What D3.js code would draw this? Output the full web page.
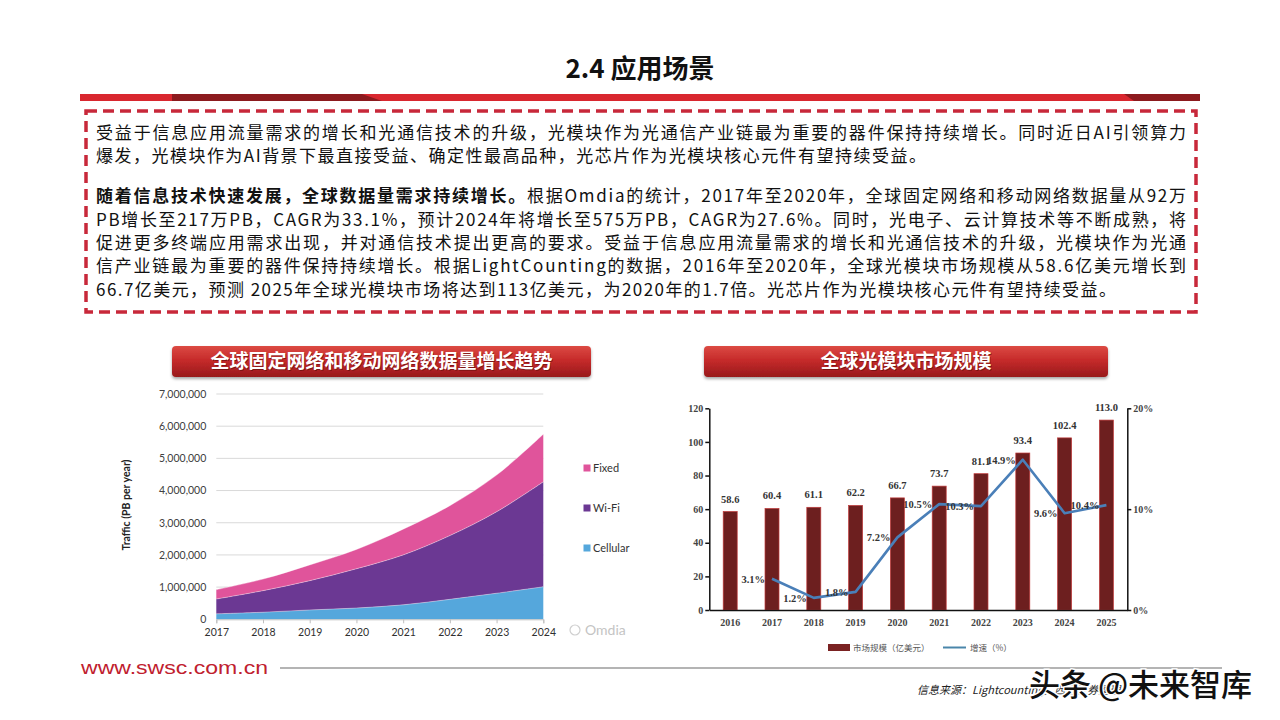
<!DOCTYPE html>
<html><head><meta charset="utf-8">
<script src="https://cdn.jsdelivr.net/npm/d3@7"></script>
<style>body{margin:0;background:#fff}svg{display:block}</style>
</head><body>
<svg id="c" width="1280" height="720"></svg>
<script>
// ---------- DATA ----------
const pageTitle = "2.4 应用场景";
const para1Lines = [
  "受益于信息应用流量需求的增长和光通信技术的升级，光模块作为光通信产业链最为重要的器件保持持续增长。同时近日AI引领算力",
  "爆发，光模块作为AI背景下最直接受益、确定性最高品种，光芯片作为光模块核心元件有望持续受益。"
];
const para2Lead = "随着信息技术快速发展，全球数据量需求持续增长。";
const para2Lines = [
  "根据Omdia的统计，2017年至2020年，全球固定网络和移动网络数据量从92万",
  "PB增长至217万PB，CAGR为33.1%，预计2024年将增长至575万PB，CAGR为27.6%。同时，光电子、云计算技术等不断成熟，将",
  "促进更多终端应用需求出现，并对通信技术提出更高的要求。受益于信息应用流量需求的增长和光通信技术的升级，光模块作为光通",
  "信产业链最为重要的器件保持持续增长。根据LightCounting的数据，2016年至2020年，全球光模块市场规模从58.6亿美元增长到",
  "66.7亿美元，预测 2025年全球光模块市场将达到113亿美元，为2020年的1.7倍。光芯片作为光模块核心元件有望持续受益。"
];

const leftTitle = "全球固定网络和移动网络数据量增长趋势";
const trafficYears = [2017, 2018, 2019, 2020, 2021, 2022, 2023, 2024];
const cellular = [170000, 220000, 290000, 350000, 450000, 620000, 810000, 1010000];
const wifi     = [460000, 670000, 910000, 1220000, 1550000, 1980000, 2530000, 3260000];
const fixed    = [290000, 360000, 490000, 600000, 800000, 930000, 1140000, 1480000];
const trafficSeries = ["Cellular", "Wi-Fi", "Fixed"];
const trafficTicks = [0, 1000000, 2000000, 3000000, 4000000, 5000000, 6000000, 7000000];
const trafficAxisTitle = "Traffic (PB per year)";

const rightTitle = "全球光模块市场规模";
const moduleYears = [2016, 2017, 2018, 2019, 2020, 2021, 2022, 2023, 2024, 2025];
const marketSize = [58.6, 60.4, 61.1, 62.2, 66.7, 73.7, 81.1, 93.4, 102.4, 113.0];
const growthRate = [null, 3.1, 1.2, 1.8, 7.2, 10.5, 10.3, 14.9, 9.6, 10.4];
const leftTicks = [0, 20, 40, 60, 80, 100, 120];
const rightTicks = [0, 10, 20];
const legendBar = "市场规模（亿美元）";
const legendLine = "增速（%）";

const footerUrl = "www.swsc.com.cn";
const sourceText = "信息来源：Lightcounting，西南证券整理";
const watermark = "头条 @未来智库";

// ---------- DRAW ----------
const svg = d3.select("#c");
const defs = svg.append("defs");
const cjk = "'Noto Sans CJK SC','Noto Sans',sans-serif";
const serif = "'Liberation Serif','DejaVu Serif',serif";
const lato = "Lato,'Open Sans',sans-serif";

svg.append("rect").attr("width",1280).attr("height",720).attr("fill","#fff");

// Title
svg.append("text").attr("x",640).attr("y",78).attr("text-anchor","middle")
  .attr("font-family",cjk).attr("font-weight",700).attr("font-size",26).attr("fill","#111")
  .text(pageTitle);

// red band
svg.append("rect").attr("x",80).attr("y",94).attr("width",1120).attr("height",7).attr("fill","#d9272f");
svg.append("polygon").attr("points","172,94 362,94 382,101 172,101").attr("fill","#8c1a1e");
svg.append("polygon").attr("points","1124,94 1200,94 1200,101 1134,101").attr("fill","#8c1a1e");

// dashed box
svg.append("rect").attr("x",86).attr("y",111).attr("width",1110).attr("height",201)
  .attr("fill","none").attr("stroke","#c8283a").attr("stroke-width",3.5).attr("stroke-dasharray","11 6");

// paragraphs
function justify(t, target){
  const node = t.node();
  const w = node.getComputedTextLength();
  const n = node.textContent.length;
  t.style("letter-spacing", ((target - w) / (n - 1)) + "px");
}
const lines = [
  {y:139, segs:[[para1Lines[0],false]], end:1186},
  {y:162, segs:[[para1Lines[1],false]], end:926},
  {y:202, segs:[[para2Lead,true],[para2Lines[0],false]], end:1186},
  {y:226, segs:[[para2Lines[1],false]], end:1186},
  {y:249, segs:[[para2Lines[2],false]], end:1186},
  {y:272, segs:[[para2Lines[3],false]], end:1186},
  {y:296, segs:[[para2Lines[4],false]], end:1116}
];
lines.forEach(l=>{
  const t = svg.append("text").attr("x",96).attr("y",l.y)
    .attr("font-family",cjk).attr("font-size",17).attr("fill","#111");
  l.segs.forEach(s=>t.append("tspan").attr("font-weight",s[1]?700:400).text(s[0]));
  justify(t, l.end - 96);
});

// header bars
const grad = defs.append("linearGradient").attr("id","hg").attr("x1",0).attr("y1",0).attr("x2",0).attr("y2",1);
grad.append("stop").attr("offset","0%").attr("stop-color","#dc4a43");
grad.append("stop").attr("offset","45%").attr("stop-color","#c62b2b");
grad.append("stop").attr("offset","100%").attr("stop-color","#98191c");
const sh = defs.append("filter").attr("id","sh").attr("x","-5%").attr("y","-20%").attr("width","110%").attr("height","160%");
sh.append("feDropShadow").attr("dx",0).attr("dy",2).attr("stdDeviation",1.6).attr("flood-color","#000").attr("flood-opacity",0.35);
function header(x, w, label){
  svg.append("rect").attr("x",x).attr("y",346).attr("width",w).attr("height",31).attr("rx",4)
    .attr("fill","url(#hg)").attr("filter","url(#sh)");
  svg.append("text").attr("x",x+w/2+1).attr("y",369).attr("text-anchor","middle")
    .attr("font-family",cjk).attr("font-weight",700).attr("font-size",19).attr("fill","#5a0c0c").attr("opacity",0.6).text(label);
  svg.append("text").attr("x",x+w/2).attr("y",368).attr("text-anchor","middle")
    .attr("font-family",cjk).attr("font-weight",700).attr("font-size",19).attr("fill","#fff").text(label);
}
header(172, 419, leftTitle);
header(704, 404, rightTitle);

// ---------- LEFT CHART ----------
const xL = d3.scalePoint().domain(trafficYears).range([216.3, 543.3]);
const yL = d3.scaleLinear().domain([0, 7000000]).range([619.3, 394]);
const rows = trafficYears.map((yr,i)=>({year:yr, "Cellular":cellular[i], "Wi-Fi":wifi[i], "Fixed":fixed[i]}));
const stacked = d3.stack().keys(trafficSeries)(rows);
const colors = {"Cellular":"#55a7dc","Wi-Fi":"#6b3893","Fixed":"#e0549b"};

svg.append("g").selectAll("line").data(trafficTicks.filter(d=>d>0)).join("line")
  .attr("x1",216.3).attr("x2",543.3).attr("y1",d=>yL(d)).attr("y2",d=>yL(d))
  .attr("stroke","#d9d9d9").attr("stroke-width",1);

const curve = d3.curveCatmullRom.alpha(0.5);
const area = d3.area().x(d=>xL(d.data.year)).y0(d=>yL(d[0])).y1(d=>yL(d[1])).curve(curve);
svg.append("g").selectAll("path").data(stacked).join("path")
  .attr("d",area).attr("fill",d=>colors[d.key]);
const topLine = d3.line().x(d=>xL(d.data.year)).y(d=>yL(d[1])).curve(curve);
svg.append("g").selectAll("path").data(stacked).join("path")
  .attr("d",topLine).attr("fill","none").attr("stroke","#fff").attr("stroke-opacity",0.45).attr("stroke-width",0.8);

const yAx = svg.append("g").attr("transform","translate(216.3,0)")
  .call(d3.axisLeft(yL).tickValues(trafficTicks).tickSize(0).tickPadding(10).tickFormat(d3.format(",")));
yAx.select(".domain").remove();
yAx.selectAll("text").attr("font-family",lato).attr("font-size",10.5).attr("fill","#404040");

const xAx = svg.append("g").attr("transform","translate(0,619.3)")
  .call(d3.axisBottom(xL).tickSize(4).tickPadding(5));
xAx.select(".domain").attr("stroke","#bfbfbf");
xAx.selectAll("line").attr("stroke","#bfbfbf");
xAx.selectAll("text").attr("font-family",lato).attr("font-size",10.5).attr("fill","#303030");

svg.append("text").attr("transform","translate(130,505) rotate(-90)").attr("text-anchor","middle")
  .attr("font-family",lato).attr("font-weight",700).attr("font-size",10.5).attr("fill","#222")
  .text(trafficAxisTitle);

const legY = {"Fixed":468, "Wi-Fi":508, "Cellular":548};
["Fixed","Wi-Fi","Cellular"].forEach(k=>{
  svg.append("rect").attr("x",583.5).attr("y",legY[k]-3.5).attr("width",7).attr("height",7).attr("fill",colors[k]);
  svg.append("text").attr("x",593).attr("y",legY[k]+3.8).attr("font-family",lato).attr("font-size",11).attr("fill","#333").text(k);
});

svg.append("circle").attr("cx",575).attr("cy",630).attr("r",5).attr("fill","none").attr("stroke","#cfcfcf").attr("stroke-width",1.2);
svg.append("text").attr("x",585).attr("y",635).attr("font-family",lato).attr("font-size",14).attr("fill","#c4c4c4").text("Omdia");

// ---------- RIGHT CHART ----------
const xB = d3.scaleBand().domain(moduleYears).range([709.3, 1127.3]).paddingInner(0.665).paddingOuter(0.3325);
const yB = d3.scaleLinear().domain([0,120]).range([610, 408.3]);
const yG = d3.scaleLinear().domain([0,20]).range([610, 408.3]);

svg.append("g").selectAll("rect").data(moduleYears).join("rect")
  .attr("x",d=>xB(d)).attr("width",xB.bandwidth())
  .attr("y",(d,i)=>yB(marketSize[i])).attr("height",(d,i)=>610-yB(marketSize[i]))
  .attr("fill","#6d1f1f").attr("stroke","#c03a3a").attr("stroke-width",0.7);

svg.append("g").selectAll("text").data(moduleYears).join("text")
  .attr("x",d=>xB(d)+xB.bandwidth()/2).attr("y",(d,i)=>yB(marketSize[i])-9)
  .attr("text-anchor","middle").attr("font-family",serif).attr("font-weight",700).attr("font-size",10.5).attr("fill","#333")
  .text((d,i)=>marketSize[i].toFixed(1));

const gPts = moduleYears.map((yr,i)=>({yr, v:growthRate[i]})).filter(d=>d.v!==null);
const cx = d=>xB(d.yr)+xB.bandwidth()/2;
svg.append("path").datum(gPts)
  .attr("d",d3.line().x(cx).y(d=>yG(d.v)))
  .attr("fill","none").attr("stroke","#4a7fb8").attr("stroke-width",2.6).attr("stroke-linejoin","round");
svg.append("g").selectAll("text").data(gPts).join("text")
  .attr("x",d=>cx(d)-7).attr("y",d=>yG(d.v)).attr("dy","0.38em")
  .attr("text-anchor","end").attr("font-family",serif).attr("font-weight",700).attr("font-size",10.5).attr("fill","#333")
  .text(d=>d.v.toFixed(1)+"%");

const lAx = svg.append("g").attr("transform","translate(709.3,0)")
  .call(d3.axisLeft(yB).tickValues(leftTicks).tickSize(4).tickPadding(2).tickSizeOuter(0));
const rAx = svg.append("g").attr("transform","translate(1127.3,0)")
  .call(d3.axisRight(yG).tickValues(rightTicks).tickSize(4).tickPadding(2).tickSizeOuter(0).tickFormat(d=>d+"%"));
const bAx = svg.append("g").attr("transform","translate(0,610)")
  .call(d3.axisBottom(xB).tickSize(0).tickPadding(9).tickSizeOuter(0));
[lAx,rAx,bAx].forEach(a=>{
  a.select(".domain").attr("stroke","#111").attr("stroke-width",1.5);
  a.selectAll("line").attr("stroke","#111").attr("stroke-width",1.5);
  a.selectAll("text").attr("font-family",serif).attr("font-weight",700).attr("font-size",10).attr("fill","#444");
});

svg.append("rect").attr("x",828).attr("y",644).attr("width",22).attr("height",7).attr("fill","#7a2222");
svg.append("text").attr("x",853).attr("y",651).attr("font-family",cjk).attr("font-size",8.5).attr("fill","#555").text(legendBar);
svg.append("line").attr("x1",943).attr("x2",966).attr("y1",647.5).attr("y2",647.5).attr("stroke","#4a86aa").attr("stroke-width",2);
svg.append("text").attr("x",970).attr("y",651).attr("font-family",cjk).attr("font-size",8.5).attr("fill","#555").text(legendLine);

// ---------- FOOTER ----------
svg.append("text").attr("x",81).attr("y",674).attr("font-family","'Liberation Sans',Arial,sans-serif")
  .attr("font-size",19).attr("fill","#c0202e").attr("textLength",187).attr("lengthAdjust","spacingAndGlyphs").text(footerUrl);
svg.append("line").attr("x1",280).attr("x2",1222).attr("y1",668).attr("y2",668).attr("stroke","#b4b4b4").attr("stroke-width",2);
svg.append("text").attr("x",917).attr("y",694).attr("font-family",cjk).attr("font-style","italic")
  .attr("font-size",11).attr("fill","#222").text(sourceText);
svg.append("text").attr("x",1029).attr("y",696).attr("font-family",cjk).attr("font-size",31).attr("font-weight",500)
  .attr("fill","#111").attr("stroke","#fff").attr("stroke-width",3).attr("paint-order","stroke").text(watermark);
</script>
</body></html>
